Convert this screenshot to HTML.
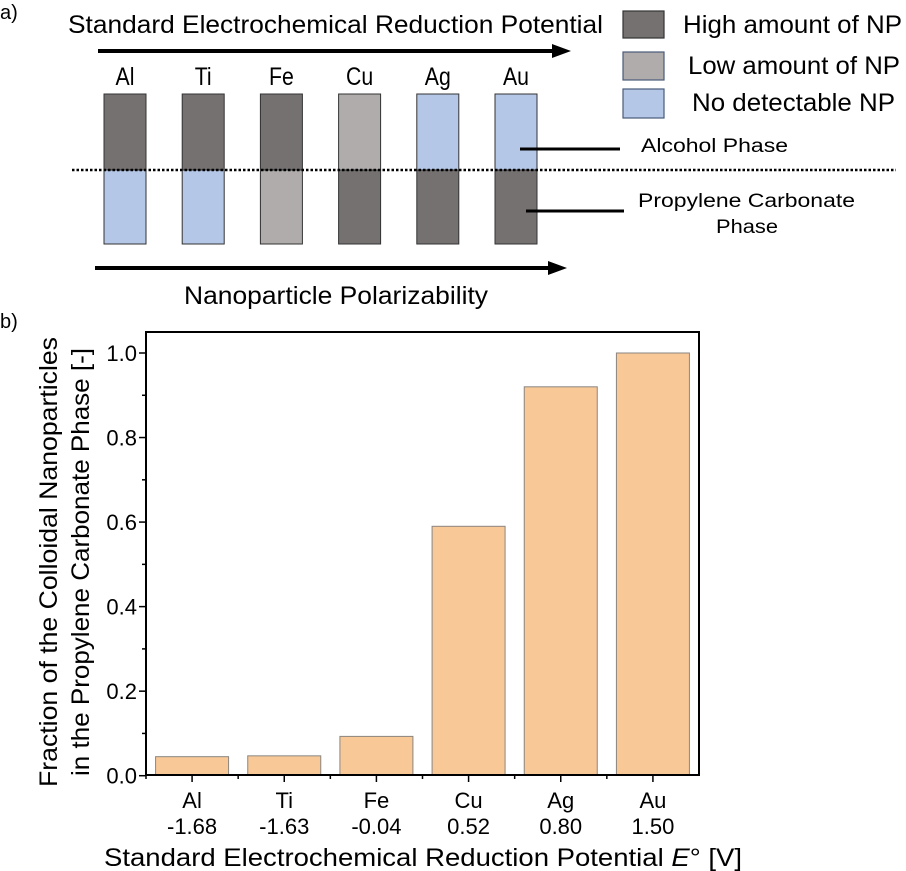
<!DOCTYPE html>
<html><head><meta charset="utf-8"><style>
body{margin:0;background:#fff;width:906px;height:871px;overflow:hidden}
svg{display:block;font-family:"Liberation Sans",Arial,sans-serif}
</style></head><body>
<svg id="fig" width="906" height="871" viewBox="0 0 906 871">
<g>
<text x="0" y="19" font-size="20">a)</text>
<text x="68" y="33" font-size="25" textLength="535" lengthAdjust="spacingAndGlyphs">Standard Electrochemical Reduction Potential</text>
<g>
<line x1="98" y1="51" x2="556" y2="51" stroke="#000" stroke-width="4"/>
<path d="M552,44 L571,51 L552,58 z" fill="#000"/>
</g>
<g id="metals"></g>
<line x1="72" y1="170" x2="896" y2="170" stroke="#000" stroke-width="2.5" stroke-dasharray="2.5,2"/>
<line x1="520" y1="149" x2="620" y2="149" stroke="#000" stroke-width="3"/>
<text x="641" y="152" font-size="19" textLength="147" lengthAdjust="spacingAndGlyphs">Alcohol Phase</text>
<line x1="526" y1="211" x2="624" y2="211" stroke="#000" stroke-width="3"/>
<text font-size="19"><tspan x="638" y="207" textLength="217" lengthAdjust="spacingAndGlyphs">Propylene Carbonate</tspan><tspan x="716" y="233" textLength="62" lengthAdjust="spacingAndGlyphs">Phase</tspan></text>
<g>
<line x1="95" y1="268" x2="552" y2="268" stroke="#000" stroke-width="4"/>
<path d="M548,261 L567,268 L548,275 z" fill="#000"/>
</g>
<text x="184" y="304" font-size="25" textLength="304" lengthAdjust="spacingAndGlyphs">Nanoparticle Polarizability</text>
<g>
<rect x="623" y="11" width="41" height="27" fill="#747170" stroke="#333" stroke-width="1.2"/>
<text x="683" y="33" font-size="25" textLength="219" lengthAdjust="spacingAndGlyphs">High amount of NP</text>
<rect x="623" y="52" width="41" height="28" fill="#b0acab" stroke="#4a5a7a" stroke-width="1.2"/>
<text x="688" y="74" font-size="25" textLength="212" lengthAdjust="spacingAndGlyphs">Low amount of NP</text>
<rect x="623" y="89" width="41" height="29" fill="#b4c7e7" stroke="#4a5a7a" stroke-width="1.2"/>
<text x="692" y="111" font-size="25" textLength="203" lengthAdjust="spacingAndGlyphs">No detectable NP</text>
</g>
</g>
<g>
<text x="0" y="328" font-size="20">b)</text>
<g id="chart"></g>
<text transform="translate(57,562) rotate(-90)" font-size="25" text-anchor="middle"><tspan x="0" y="0" textLength="450" lengthAdjust="spacingAndGlyphs">Fraction of the Colloidal Nanoparticles</tspan><tspan x="0" y="32" textLength="428" lengthAdjust="spacingAndGlyphs">in the Propylene Carbonate Phase [-]</tspan></text>
<text x="104" y="866" font-size="25" textLength="638" lengthAdjust="spacingAndGlyphs">Standard Electrochemical Reduction Potential <tspan font-style="italic">E</tspan>° [V]</text>
</g>
</svg>
<script>
const NS="http://www.w3.org/2000/svg";
const metals=["Al","Ti","Fe","Cu","Ag","Au"];
const upperState=["high","high","high","low","none","none"];
const lowerState=["none","none","low","high","high","high"];
const potentials=["-1.68","-1.63","-0.04","0.52","0.80","1.50"];
const fractions=[0.045,0.047,0.093,0.59,0.92,1.0];
const yTicks=[0,0.2,0.4,0.6,0.8,1.0];
const stateColor={high:"#747170",low:"#b0acab",none:"#b4c7e7"};
function mk(tag,attrs,parent){const e=document.createElementNS(NS,tag);for(const k in attrs)e.setAttribute(k,attrs[k]);parent.appendChild(e);return e;}
const mg=document.getElementById("metals");
metals.forEach((m,i)=>{
  const x=104+i*78.2;
  const t=mk("text",{x:x+21,y:85,"font-size":25,"text-anchor":"middle",transform:"translate("+(x+21)+",0) scale(0.85,1) translate("+(-(x+21))+",0)"},mg);t.textContent=m;
  
  
  const u=mk("rect",{x:x,y:94,width:42,height:76,fill:stateColor[upperState[i]],stroke:"#333","stroke-width":1},mg);
  
  
  const l=mk("rect",{x:x,y:170,width:42,height:74,fill:stateColor[lowerState[i]],stroke:"#333","stroke-width":1},mg);
  
  
});
const g=document.getElementById("chart");
const L=146,R=699,T=332,B=775,y0=775.7,y1=353;
const band=(R-L)/metals.length;
const yS=v=>y0-(y0-y1)*v;
const xC=i=>L+band*(i+0.5);
fractions.forEach((v,i)=>{
  const b=mk("rect",{x:xC(i)-36.5,y:yS(v),width:73,height:B-yS(v),fill:"#f9c897",stroke:"#8a8580","stroke-width":1},g);
  
  
});
const fr=mk("rect",{x:L,y:T,width:R-L,height:B-T,fill:"none",stroke:"#000","stroke-width":2},g);


for(let k=0;k<=10;k++){const v=k/10;const y=yS(v);
  mk("line",{x1:L,x2:L-(k%2?4:7),y1:y,y2:y,stroke:"#000","stroke-width":1.5},g);}
yTicks.forEach(v=>{const t=mk("text",{x:L-9,y:yS(v)+8,"font-size":22,"text-anchor":"end"},g);t.textContent=v.toFixed(1);
  
  });
metals.forEach((m,i)=>{
  mk("line",{x1:xC(i),x2:xC(i),y1:B,y2:B+7,stroke:"#000","stroke-width":1.5},g);
  mk("line",{x1:L+band*i,x2:L+band*i,y1:B,y2:B+4,stroke:"#000","stroke-width":1.5},g);
  const t=mk("text",{x:xC(i),y:808,"font-size":22,"text-anchor":"middle"},g);t.textContent=m;
  
  
  const p=mk("text",{x:xC(i),y:834,"font-size":22,"text-anchor":"middle"},g);p.textContent=potentials[i];
  
  
});
</script>
</body></html>
